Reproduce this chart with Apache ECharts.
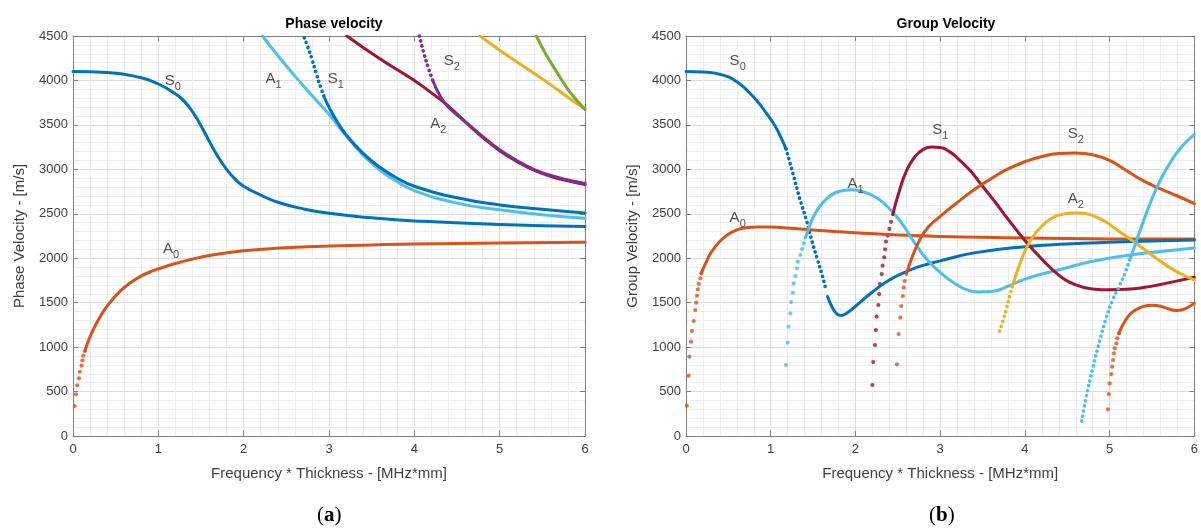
<!DOCTYPE html>
<html>
<head>
<meta charset="utf-8">
<script src="https://cdn.jsdelivr.net/npm/echarts@6/dist/echarts.min.js"></script>
<style>
  html, body { margin: 0; padding: 0; background: #ffffff; }
  #chart { width: 1201px; height: 531px; }
</style>
</head>
<body>
<div id="chart"></div>
<script>
// MATLAB default colours
const C_BLUE = '#0072BD', C_ORANGE = '#D95319', C_YELLOW = '#EDB120', C_PURPLE = '#7E2F8E',
      C_GREEN = '#77AC30', C_LBLUE = '#4DBEEE', C_RED = '#A2142F';

// ---------- (a) phase velocity ----------
const phA0Dots = [[0.02, 337], [0.035, 469], [0.05, 570], [0.07, 649], [0.08, 723], [0.10, 791], [0.11, 851], [0.12, 903], [0.14, 956]];
const phA0 = [[0.14, 956], [0.17, 1045], [0.21, 1140], [0.26, 1240], [0.32, 1345], [0.39, 1450], [0.47, 1545], [0.56, 1635], [0.66, 1715], [0.78, 1790], [0.9, 1845], [1.0, 1880], [1.2, 1940], [1.4, 1990], [1.6, 2030], [2.0, 2085], [2.5, 2118], [3.0, 2137], [3.5, 2150], [4.0, 2160], [5.0, 2170], [6.0, 2180]];
const phS0 = [[0, 4100], [0.4, 4090], [0.8, 4030], [1.0, 3960], [1.2, 3850], [1.3, 3770], [1.4, 3650], [1.5, 3490], [1.6, 3310], [1.7, 3140], [1.8, 3000], [1.9, 2890], [2.0, 2810], [2.2, 2710], [2.4, 2630], [2.7, 2555], [3.0, 2505], [3.5, 2455], [4.0, 2420], [5.0, 2378], [6.0, 2358]];
const phA1 = [[2.22, 4500], [2.4, 4280], [2.6, 4050], [2.8, 3830], [3.0, 3620], [3.2, 3380], [3.4, 3160], [3.6, 2990], [3.8, 2860], [4.0, 2760], [4.5, 2620], [5.0, 2545], [5.5, 2490], [6.0, 2450]];
const phS1Top = [[2.71, 4480], [2.75, 4380], [2.8, 4240], [2.85, 4080], [2.9, 3930], [2.95, 3800]];
const phS1 = [[2.95, 3800], [3.0, 3700], [3.1, 3530], [3.2, 3390], [3.4, 3180], [3.6, 3020], [3.8, 2900], [4.0, 2810], [4.5, 2680], [5.0, 2600], [5.5, 2550], [6.0, 2510]];
const phA2 = [[3.21, 4500], [3.6, 4240], [4.0, 4000], [4.2, 3860], [4.4, 3710], [4.6, 3530], [4.8, 3360], [5.0, 3210], [5.2, 3090], [5.4, 2990], [5.6, 2920], [5.8, 2870], [6.0, 2830]];
const phS2Top = [[4.06, 4500], [4.11, 4312], [4.17, 4125], [4.22, 3990]];
const phS2 = [[4.22, 3990], [4.3, 3830], [4.4, 3700], [4.6, 3535], [4.8, 3370], [5.0, 3220], [5.2, 3100], [5.4, 3000], [5.6, 2930], [5.8, 2880], [6.0, 2840]];
const phYellow = [[4.77, 4500], [5.0, 4340], [5.33, 4125], [5.6, 3950], [5.8, 3810], [6.0, 3675]];
const phGreen = [[5.43, 4500], [5.55, 4280], [5.65, 4125], [5.8, 3900], [5.9, 3780], [6.0, 3675]];
const phLabels = [[1.17, 3994, 'S', '0'], [2.35, 4016, 'A', '1'], [3.08, 4016, 'S', '1'], [1.15, 2104, 'A', '0'], [4.44, 4219, 'S', '2'], [4.28, 3510, 'A', '2']];

// ---------- (b) group velocity ----------
const grA0Dots = [[0.01, 341], [0.03, 679], [0.04, 892], [0.06, 1061], [0.07, 1181], [0.09, 1294], [0.11, 1417], [0.12, 1500], [0.13, 1578], [0.14, 1650], [0.15, 1713], [0.17, 1774], [0.18, 1830]];
const grA0 = [[0.18, 1830], [0.24, 1960], [0.3, 2070], [0.4, 2190], [0.5, 2270], [0.6, 2318], [0.7, 2343], [0.85, 2352], [1.0, 2350], [1.2, 2340], [1.5, 2318], [2.0, 2287], [2.5, 2260], [3.0, 2245], [3.5, 2235], [4.0, 2227], [5.0, 2217], [6.0, 2215]];
const grS0a = [[0, 4100], [0.2, 4095], [0.4, 4070], [0.6, 3985], [0.8, 3810], [0.95, 3630], [1.05, 3490], [1.12, 3360], [1.18, 3230]];
const grS0Dots = [[1.18, 3230], [1.26, 2960], [1.34, 2680], [1.42, 2430], [1.49, 2180], [1.55, 1990], [1.61, 1800], [1.65, 1650]];
const grS0b = [[1.67, 1570], [1.73, 1440], [1.78, 1375], [1.83, 1355], [1.9, 1385], [2.0, 1460], [2.2, 1620], [2.4, 1755], [2.6, 1850], [2.8, 1920], [3.0, 1970], [3.4, 2060], [4.0, 2130], [4.5, 2160], [5.0, 2180], [5.5, 2195], [6.0, 2205]];
const grA1Dots = [[1.18, 799], [1.20, 1050], [1.21, 1230], [1.23, 1380], [1.24, 1507], [1.26, 1612], [1.27, 1717], [1.29, 1800], [1.31, 1886], [1.32, 1961], [1.35, 2036], [1.37, 2104], [1.39, 2168]];
const grA1 = [[1.41, 2230], [1.45, 2340], [1.5, 2460], [1.6, 2610], [1.7, 2700], [1.8, 2750], [1.95, 2770], [2.1, 2745], [2.25, 2680], [2.4, 2560], [2.55, 2390], [2.7, 2170], [2.85, 1980], [3.0, 1840], [3.15, 1730], [3.3, 1650], [3.45, 1620], [3.6, 1625], [3.8, 1685], [4.0, 1765], [4.4, 1870], [4.8, 1965], [5.2, 2030], [5.6, 2075], [6.0, 2115]];
const grS1Dots = [[2.20, 574], [2.21, 832], [2.23, 1024], [2.24, 1192], [2.25, 1342], [2.27, 1474], [2.28, 1597], [2.29, 1710], [2.31, 1822], [2.32, 1916], [2.34, 2010], [2.35, 2100], [2.36, 2186], [2.38, 2255], [2.40, 2330], [2.42, 2410]];
const grS1 = [[2.44, 2490], [2.5, 2700], [2.6, 2980], [2.7, 3140], [2.8, 3225], [2.9, 3250], [3.0, 3245], [3.1, 3205], [3.2, 3130], [3.35, 2990], [3.5, 2810], [3.65, 2630], [3.8, 2440], [4.0, 2200], [4.2, 1990], [4.4, 1810], [4.6, 1700], [4.8, 1655], [5.0, 1645], [5.2, 1650], [5.4, 1670], [5.6, 1705], [5.8, 1745], [6.0, 1785]];
const grS2Dots = [[2.49, 806], [2.51, 1147], [2.53, 1331], [2.54, 1462], [2.56, 1575], [2.57, 1669], [2.58, 1744]];
const grS2 = [[2.6, 1819], [2.67, 2015], [2.75, 2190], [2.85, 2340], [3.0, 2470], [3.2, 2625], [3.4, 2770], [3.6, 2895], [3.8, 3005], [4.0, 3085], [4.2, 3145], [4.4, 3178], [4.6, 3185], [4.8, 3165], [5.0, 3100], [5.2, 2985], [5.4, 2870], [5.6, 2780], [5.8, 2700], [6.0, 2615]];
const grA2Dots = [[3.70, 1181], [3.74, 1294], [3.78, 1425], [3.82, 1575], [3.86, 1706]];
const grA2 = [[3.86, 1706], [3.9, 1830], [3.95, 1960], [4.0, 2080], [4.1, 2250], [4.2, 2360], [4.3, 2440], [4.4, 2485], [4.55, 2508], [4.65, 2510], [4.8, 2480], [4.95, 2410], [5.1, 2310], [5.25, 2210], [5.4, 2105], [5.55, 2000], [5.7, 1900], [5.85, 1820], [6.0, 1755]];
const grA3Dots = [[4.67, 170], [4.72, 420], [4.8, 760], [4.88, 1060], [4.96, 1330], [5.04, 1540], [5.12, 1700], [5.18, 1830], [5.24, 1990]];
const grA3 = [[5.24, 1990], [5.3, 2150], [5.4, 2420], [5.5, 2670], [5.6, 2880], [5.73, 3100], [5.86, 3265], [6.0, 3394]];
const grS3Dots = [[4.98, 300], [4.99, 472], [5.00, 592], [5.02, 697], [5.03, 780], [5.04, 855], [5.05, 930], [5.06, 986], [5.08, 1042], [5.09, 1099], [5.11, 1155]];
const grS3 = [[5.11, 1155], [5.15, 1240], [5.2, 1320], [5.25, 1380], [5.32, 1425], [5.4, 1458], [5.5, 1472], [5.6, 1460], [5.7, 1428], [5.8, 1412], [5.9, 1435], [6.0, 1495]];
const grLabels = [[0.61, 4219, 'S', '0'], [0.61, 2452, 'A', '0'], [2.0, 2835, 'A', '1'], [3.0, 3442, 'S', '1'], [4.6, 3397, 'S', '2'], [4.6, 2666, 'A', '2']];

const xTicks = [0, 1, 2, 3, 4, 5, 6];
const yMax = 4500;

const FONT = 'Liberation Sans';
const AXIS_GRAY = '#7f7f7f';
const TXT = '#404040';

function line(data, color, g, dotted) {
  return {
    type: 'line', data: data, xAxisIndex: g, yAxisIndex: g,
    showSymbol: false, smooth: 0.5, clip: true,
    lineStyle: dotted
      ? { color: color, width: 3.6, type: [0.1, 5], cap: 'round' }
      : { color: color, width: 3, cap: 'round', join: 'round' },
    silent: true, animation: false
  };
}

function dots(data, color, g) {
  return {
    type: 'scatter', data: data, xAxisIndex: g, yAxisIndex: g,
    symbol: 'circle', symbolSize: 4.2, itemStyle: { color: color },
    silent: true, animation: false
  };
}

function labels(list, g) {
  return {
    type: 'scatter', xAxisIndex: g, yAxisIndex: g, symbolSize: 0,
    data: list.map(l => ({ value: [l[0], l[1]], name: l[2], sub: l[3] })),
    label: {
      show: true, position: 'inside',
      formatter: p => '{m|' + p.data.name + '}{s|' + p.data.sub + '}',
      rich: {
        m: { fontFamily: FONT, fontSize: 15, color: '#262626', lineHeight: 22 },
        s: { fontFamily: FONT, fontSize: 11, color: '#262626', lineHeight: 10, verticalAlign: 'bottom' }
      }
    },
    silent: true, animation: false, z: 10
  };
}

function xAxisMain(g, name) {
  return {
    type: 'value', gridIndex: g, min: 0, max: 6, interval: 1,
    name: name, nameLocation: 'middle', nameGap: 30,
    nameTextStyle: { fontFamily: FONT, fontSize: 15, color: TXT },
    axisLine: { show: true, lineStyle: { color: AXIS_GRAY, width: 1 } },
    axisTick: { show: true, inside: true, length: 5, lineStyle: { color: AXIS_GRAY } },
    axisLabel: { fontFamily: FONT, fontSize: 13, color: TXT, margin: 7,
      formatter: v => xTicks.includes(v) ? String(v) : '' },
    splitLine: { show: true, lineStyle: { color: '#dcdcdc', width: 1 } },
    minorTick: { show: false, splitNumber: 5 },
    minorSplitLine: { show: true, lineStyle: { color: '#eeeeee', width: 1 } }
  };
}

function yAxisMain(g, name) {
  return {
    type: 'value', gridIndex: g, min: 0, max: yMax, interval: 500,
    name: name, nameLocation: 'middle', nameGap: 46,
    nameTextStyle: { fontFamily: FONT, fontSize: 15, color: TXT },
    axisLine: { show: true, lineStyle: { color: AXIS_GRAY, width: 1 } },
    axisTick: { show: true, inside: true, length: 5, lineStyle: { color: AXIS_GRAY } },
    axisLabel: { fontFamily: FONT, fontSize: 13, color: TXT, margin: 5, formatter: v => String(v) },
    splitLine: { show: true, lineStyle: { color: '#dcdcdc', width: 1 } },
    minorTick: { show: false, splitNumber: 5 },
    minorSplitLine: { show: true, lineStyle: { color: '#eeeeee', width: 1 } }
  };
}

function boxAxis(kind, g) {
  const a = {
    type: 'value', gridIndex: g, position: kind === 'x' ? 'top' : 'right',
    axisLine: { show: true, onZero: false, lineStyle: { color: AXIS_GRAY, width: 1 } },
    axisTick: { show: true, inside: true, length: 5, lineStyle: { color: AXIS_GRAY } },
    axisLabel: { show: false }, splitLine: { show: false }
  };
  if (kind === 'x') { a.min = 0; a.max = 6; a.interval = 1; }
  else { a.min = 0; a.max = yMax; a.interval = 500; }
  return a;
}

const chart = echarts.init(document.getElementById('chart'));

const series = [
  // (a)
  dots(phA0Dots, C_ORANGE, 0),
  line(phA0, C_ORANGE, 0),
  line(phS0, C_BLUE, 0),
  line(phA1, C_LBLUE, 0),
  line(phS1Top, C_BLUE, 0, true),
  line(phS1, C_BLUE, 0),
  line(phA2, C_RED, 0),
  line(phS2Top, C_PURPLE, 0, true),
  line(phS2, C_PURPLE, 0),
  line(phYellow, C_YELLOW, 0),
  line(phGreen, C_GREEN, 0),
  labels(phLabels, 0),
  // (b)
  dots(grA0Dots, C_ORANGE, 1),
  line(grA0, C_ORANGE, 1),
  line(grS0a, C_BLUE, 1),
  line(grS0Dots, C_BLUE, 1, true),
  line(grS0b, C_BLUE, 1),
  dots(grA1Dots, C_LBLUE, 1),
  line(grA1, C_LBLUE, 1),
  dots(grS1Dots, C_RED, 1),
  line(grS1, C_RED, 1),
  dots(grS2Dots, C_ORANGE, 1),
  line(grS2, C_ORANGE, 1),
  line(grA2Dots, C_YELLOW, 1, true),
  line(grA2, C_YELLOW, 1),
  line(grA3Dots, C_LBLUE, 1, true),
  line(grA3, C_LBLUE, 1),
  dots(grS3Dots, C_ORANGE, 1),
  line(grS3, C_ORANGE, 1),
  labels(grLabels, 1)
];

chart.setOption({
  backgroundColor: '#ffffff',
  animation: false,
  title: [
    { text: 'Phase velocity', left: 329, top: 12, textAlign: 'center',
      textStyle: { fontFamily: FONT, fontSize: 14, fontWeight: 'bold', color: '#000' } },
    { text: 'Group Velocity', left: 941, top: 12, textAlign: 'center',
      textStyle: { fontFamily: FONT, fontSize: 14, fontWeight: 'bold', color: '#000' } }
  ],
  grid: [
    { left: 73, top: 36, width: 512, height: 400, show: false },
    { left: 686, top: 36, width: 511, height: 400, show: false }
  ],
  xAxis: [
    xAxisMain(0, 'Frequency * Thickness - [MHz*mm]'),
    xAxisMain(1, 'Frequency * Thickness - [MHz*mm]'),
    boxAxis('x', 0), boxAxis('x', 1)
  ],
  yAxis: [
    yAxisMain(0, 'Phase Velocity - [m/s]'),
    yAxisMain(1, 'Group Velocity - [m/s]'),
    boxAxis('y', 0), boxAxis('y', 1)
  ],
  graphic: [
    { type: 'text', left: 317, top: 505,
      style: { text: '{p|(}{b|a}{p|)}', rich: {
        p: { fontFamily: 'Liberation Serif', fontSize: 21, fill: '#000' },
        b: { fontFamily: 'Liberation Serif', fontSize: 21, fontWeight: 'bold', fill: '#000' } } } },
    { type: 'text', left: 929, top: 505,
      style: { text: '{p|(}{b|b}{p|)}', rich: {
        p: { fontFamily: 'Liberation Serif', fontSize: 21, fill: '#000' },
        b: { fontFamily: 'Liberation Serif', fontSize: 21, fontWeight: 'bold', fill: '#000' } } } }
  ],
  series: series
});
</script>
</body>
</html>
